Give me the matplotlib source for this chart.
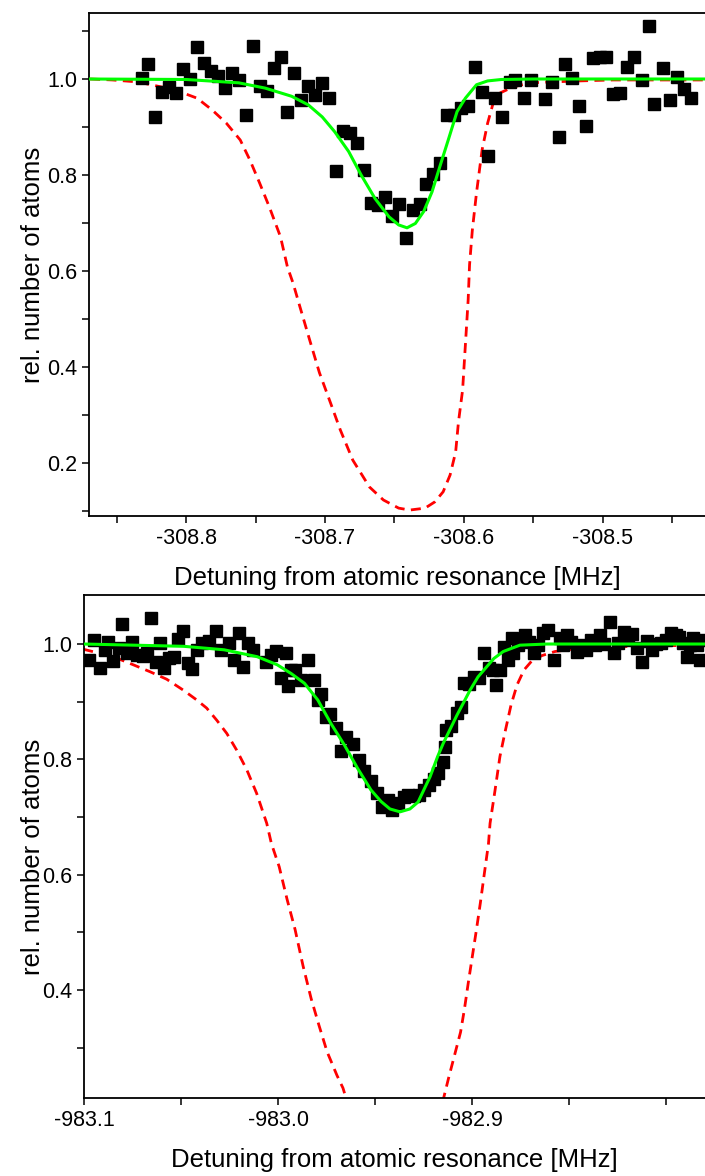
import matplotlib
matplotlib.use("Agg")
import matplotlib.pyplot as plt
from matplotlib.ticker import MultipleLocator

plt.rcParams['font.family'] = ['Liberation Sans', 'DejaVu Sans']

# ---- top panel: measured points ----
top_x = [-308.832, -308.827, -308.822, -308.817, -308.812, -308.807, -308.802, -308.797,
         -308.792, -308.787, -308.782, -308.777, -308.772, -308.767, -308.762, -308.757,
         -308.752, -308.747, -308.742, -308.737, -308.732, -308.727, -308.722, -308.717,
         -308.712, -308.707, -308.702, -308.697, -308.692, -308.687, -308.682, -308.677,
         -308.672, -308.667, -308.662, -308.657, -308.652, -308.647, -308.642, -308.637,
         -308.632, -308.627, -308.622, -308.617, -308.612, -308.607, -308.602, -308.597,
         -308.592, -308.587, -308.583, -308.578, -308.573, -308.567, -308.563, -308.557,
         -308.552, -308.542, -308.537, -308.532, -308.527, -308.522, -308.517, -308.512,
         -308.507, -308.502, -308.498, -308.493, -308.488, -308.483, -308.478, -308.472,
         -308.467, -308.463, -308.457, -308.452, -308.447, -308.442, -308.437]
top_y = [1.003, 1.031, 0.920, 0.972, 0.983, 0.970, 1.021, 0.999,
         1.066, 1.034, 1.017, 1.007, 0.981, 1.013, 0.997, 0.924,
         1.068, 0.986, 0.976, 1.022, 1.045, 0.932, 1.013, 0.956,
         0.985, 0.967, 0.992, 0.960, 0.808, 0.892, 0.887, 0.866,
         0.810, 0.741, 0.738, 0.754, 0.714, 0.739, 0.668, 0.727,
         0.740, 0.781, 0.802, 0.825, 0.924, 0.925, 0.939, 0.944,
         1.024, 0.972, 0.840, 0.960, 0.920, 0.994, 0.998, 0.961,
         0.998, 0.958, 0.994, 0.880, 1.031, 1.003, 0.944, 0.903,
         1.044, 1.046, 1.045, 0.968, 0.970, 1.024, 1.046, 0.997,
         1.110, 0.947, 1.022, 0.956, 1.005, 0.979, 0.961]

# fit (green) and expected (red dashed) curves
top_fit_x = [-308.870, -308.800, -308.762, -308.743, -308.724, -308.712, -308.702, -308.693,
             -308.683, -308.674, -308.664, -308.654, -308.647, -308.641, -308.635, -308.629,
             -308.623, -308.617, -308.611, -308.605, -308.599, -308.591, -308.583, -308.573,
             -308.550, -308.427]
top_fit_y = [1.000, 0.999, 0.992, 0.981, 0.964, 0.946, 0.921, 0.890,
             0.849, 0.800, 0.751, 0.713, 0.696, 0.690, 0.699, 0.724,
             0.765, 0.821, 0.876, 0.932, 0.960, 0.988, 0.996, 0.999,
             1.000, 1.000]
top_ref_x = [-308.869, -308.853, -308.835, -308.817, -308.804, -308.792, -308.781, -308.771,
             -308.761, -308.754, -308.747, -308.740, -308.732, -308.727, -308.723, -308.718,
             -308.711, -308.704, -308.696, -308.689, -308.680, -308.668, -308.658, -308.647,
             -308.639, -308.628, -308.621, -308.615, -308.610, -308.606, -308.604, -308.601,
             -308.599, -308.597, -308.596, -308.594, -308.591, -308.587, -308.583, -308.579,
             -308.574, -308.565, -308.553, -308.536, -308.517, -308.493, -308.457, -308.427]
top_ref_y = [1.000, 0.998, 0.994, 0.983, 0.973, 0.960, 0.935, 0.908,
             0.873, 0.831, 0.783, 0.733, 0.671, 0.608, 0.575, 0.525,
             0.456, 0.388, 0.325, 0.269, 0.206, 0.150, 0.123, 0.106,
             0.102, 0.106, 0.119, 0.140, 0.175, 0.223, 0.285, 0.352,
             0.446, 0.540, 0.613, 0.685, 0.763, 0.852, 0.908, 0.950,
             0.971, 0.983, 0.992, 0.994, 0.996, 0.998, 0.998, 0.998]

# ---- bottom panel ----
bot_x = [-983.0974, -983.0948, -983.0919, -983.0893, -983.0876, -983.0849, -983.0820, -983.0803,
         -983.0777, -983.0751, -983.0725, -983.0694, -983.0674, -983.0656, -983.0630, -983.0608,
         -983.0588, -983.0562, -983.0536, -983.0514, -983.0488, -983.0464, -983.0442, -983.0416,
         -983.0390, -983.0356, -983.0321, -983.0295, -983.0253, -983.0227, -983.0201, -983.0179,
         -983.0155, -983.0127, -983.0063, -983.0038, -983.0012, -982.9986, -982.9960, -982.9948,
         -982.9935, -982.9912, -982.9881, -982.9847, -982.9817, -982.9795, -982.9778, -982.9753,
         -982.9730, -982.9701, -982.9675, -982.9649, -982.9611, -982.9580, -982.9557, -982.9523,
         -982.9490, -982.9464, -982.9433, -982.9412, -982.9381, -982.9351, -982.9330, -982.9299,
         -982.9272, -982.9247, -982.9220, -982.9196, -982.9177, -982.9151, -982.9140, -982.9134,
         -982.9108, -982.9077, -982.9057, -982.9040, -982.9015, -982.8988, -982.8962, -982.8937,
         -982.8911, -982.8890, -982.8874, -982.8856, -982.8835, -982.8814, -982.8796, -982.8787,
         -982.8763, -982.8728, -982.8706, -982.8680, -982.8660, -982.8634, -982.8608, -982.8577,
         -982.8548, -982.8531, -982.8509, -982.8490, -982.8461, -982.8438, -982.8411, -982.8387,
         -982.8366, -982.8342, -982.8320, -982.8291, -982.8268, -982.8247, -982.8216, -982.8196,
         -982.8175, -982.8148, -982.8124, -982.8098, -982.8072, -982.8052, -982.8024, -982.8000,
         -982.7974, -982.7951, -982.7933, -982.7912, -982.7892, -982.7876, -982.7861, -982.7840,
         -982.7825, -982.7809]
bot_y = [0.973, 1.007, 0.959, 0.990, 1.004, 0.971, 0.993, 1.034,
         0.984, 1.004, 0.981, 0.979, 0.984, 1.045, 0.968, 1.002,
         0.958, 0.975, 0.977, 1.008, 1.023, 0.967, 0.956, 0.990,
         1.001, 1.006, 1.023, 0.990, 1.002, 0.972, 1.019, 0.960,
         1.001, 0.990, 0.969, 0.981, 0.988, 0.941, 0.984, 0.927,
         0.955, 0.955, 0.938, 0.973, 0.938, 0.903, 0.913, 0.874,
         0.879, 0.854, 0.815, 0.839, 0.827, 0.799, 0.779, 0.762,
         0.741, 0.718, 0.729, 0.712, 0.724, 0.735, 0.738, 0.736,
         0.738, 0.747, 0.756, 0.766, 0.776, 0.796, 0.822, 0.851,
         0.857, 0.880, 0.891, 0.932, 0.931, 0.943, 0.941, 0.984,
         0.958, 0.955, 0.929, 0.955, 0.995, 0.972, 1.010, 0.984,
         0.998, 1.016, 1.003, 0.984, 0.998, 1.019, 1.024, 0.972,
         1.010, 0.998, 1.016, 1.003, 0.987, 0.998, 0.990, 1.007,
         0.998, 1.016, 1.000, 1.038, 0.984, 1.001, 1.021, 1.007,
         1.017, 0.993, 0.968, 1.005, 0.990, 1.000, 1.001, 1.007,
         1.019, 1.016, 1.012, 1.001, 0.978, 0.998, 1.011, 0.998,
         0.972, 1.007]

bot_fit_x = [-983.100, -983.0485, -983.0278, -983.0107, -983.0004, -982.9933, -982.9864, -982.9795,
             -982.9727, -982.9658, -982.9589, -982.9521, -982.9469, -982.9423, -982.9371, -982.9320,
             -982.9278, -982.9216, -982.9177, -982.9148, -982.9077, -982.9010, -982.8969, -982.8923,
             -982.8887, -982.8839, -982.8753, -982.8613, -982.7799]
bot_fit_y = [1.000, 0.996, 0.990, 0.978, 0.964, 0.949, 0.932, 0.903,
             0.862, 0.825, 0.784, 0.747, 0.727, 0.714, 0.709, 0.714,
             0.726, 0.770, 0.805, 0.828, 0.877, 0.920, 0.943, 0.961,
             0.975, 0.987, 0.998, 1.000, 1.000]
bot_ref_x = [-983.1004, -983.0849, -983.0746, -983.0660, -983.0574, -983.0488, -983.0419, -983.0368,
             -983.0316, -983.0264, -983.0213, -983.0161, -983.0110, -983.0058, -983.0034, -982.9994,
             -982.9953, -982.9912, -982.9871, -982.9829, -982.9789, -982.9747, -982.9696, -982.9665,
             -982.9639, None,
             -982.9152, -982.9121, -982.9090, -982.9059, -982.9039, -982.9019, -982.8998, -982.8977,
             -982.8957, -982.8936, -982.8915, -982.8907, -982.8881, -982.8856, -982.8830, -982.8799,
             -982.8768, -982.8732, -982.8691, -982.8639, -982.8572, -982.8485, -982.8366, -982.8186,
             -982.8005, -982.7799]
bot_ref_y = [0.991, 0.978, 0.964, 0.952, 0.939, 0.920, 0.903, 0.889,
             0.868, 0.845, 0.816, 0.782, 0.741, 0.689, 0.654, 0.614,
             0.557, 0.505, 0.442, 0.385, 0.339, 0.293, 0.252, 0.230,
             0.201, None,
             0.205, 0.247, 0.287, 0.327, 0.367, 0.413, 0.459, 0.505,
             0.551, 0.603, 0.654, 0.689, 0.747, 0.805, 0.847, 0.894,
             0.929, 0.955, 0.971, 0.980, 0.987, 0.991, 0.993, 0.996,
             0.997, 0.998]

xlabel = "Detuning from atomic resonance [MHz]"
ylabel = "rel. number of atoms"

fig = plt.figure(figsize=(7.05, 11.76), dpi=100)
ax1 = fig.add_axes([89/705, 1 - 516/1176, 616/705, 503/1176])
ax2 = fig.add_axes([84/705, 1 - 1098/1176, 621/705, 503/1176])


def style(ax):
    ax.spines['right'].set_visible(False)
    for s in ['left', 'top', 'bottom']:
        ax.spines[s].set_linewidth(1.3)
    ax.tick_params(which='both', direction='out', length=5, width=1.1,
                   labelsize=15.5, top=False, right=False)
    ax.set_xlabel(xlabel, fontsize=18.5)
    ax.set_ylabel(ylabel, fontsize=18.5)


def draw(ax, x, y, fx, fy, rx, ry):
    ax.plot(rx, ry, color='#ff0000', lw=2.0, ls=(0, (3.6, 2.3)), zorder=2)
    ax.plot(x, y, ls='none', marker='s', ms=8, color='black', zorder=3)
    ax.plot(fx, fy, color='#00ff00', lw=2.2, zorder=4)


draw(ax1, top_x, top_y, top_fit_x, top_fit_y, top_ref_x, top_ref_y)
ax1.set_xlim(-308.8698, -308.4266)
ax1.set_ylim(0.0896, 1.1375)
ax1.xaxis.set_minor_locator(MultipleLocator(0.05))
ax1.yaxis.set_minor_locator(MultipleLocator(0.1))
style(ax1)
ax1.set_xticks([-308.8, -308.7, -308.6, -308.5])
ax1.set_xticklabels(['-308.8', '-308.7', '-308.6', '-308.5'])
ax1.set_yticks([0.2, 0.4, 0.6, 0.8, 1.0])
ax1.set_yticklabels(['0.2', '0.4', '0.6', '0.8', '1.0'])

draw(ax2, bot_x, bot_y, bot_fit_x, bot_fit_y, bot_ref_x, bot_ref_y)
ax2.set_xlim(-983.1, -982.7799)
ax2.set_ylim(0.2128, 1.085)
ax2.xaxis.set_minor_locator(MultipleLocator(0.05))
ax2.yaxis.set_minor_locator(MultipleLocator(0.1))
style(ax2)
ax2.set_xticks([-983.1, -983.0, -982.9])
ax2.set_xticklabels(['-983.1', '-983.0', '-982.9'])
ax2.set_yticks([0.4, 0.6, 0.8, 1.0])
ax2.set_yticklabels(['0.4', '0.6', '0.8', '1.0'])

ax1.yaxis.set_label_coords(-0.072, 0.5)
ax2.yaxis.set_label_coords(-0.063, 0.48)
ax1.xaxis.set_label_coords(0.5, -0.1)
ax2.xaxis.set_label_coords(0.5, -0.1)

fig.savefig('out.png', dpi=100)
